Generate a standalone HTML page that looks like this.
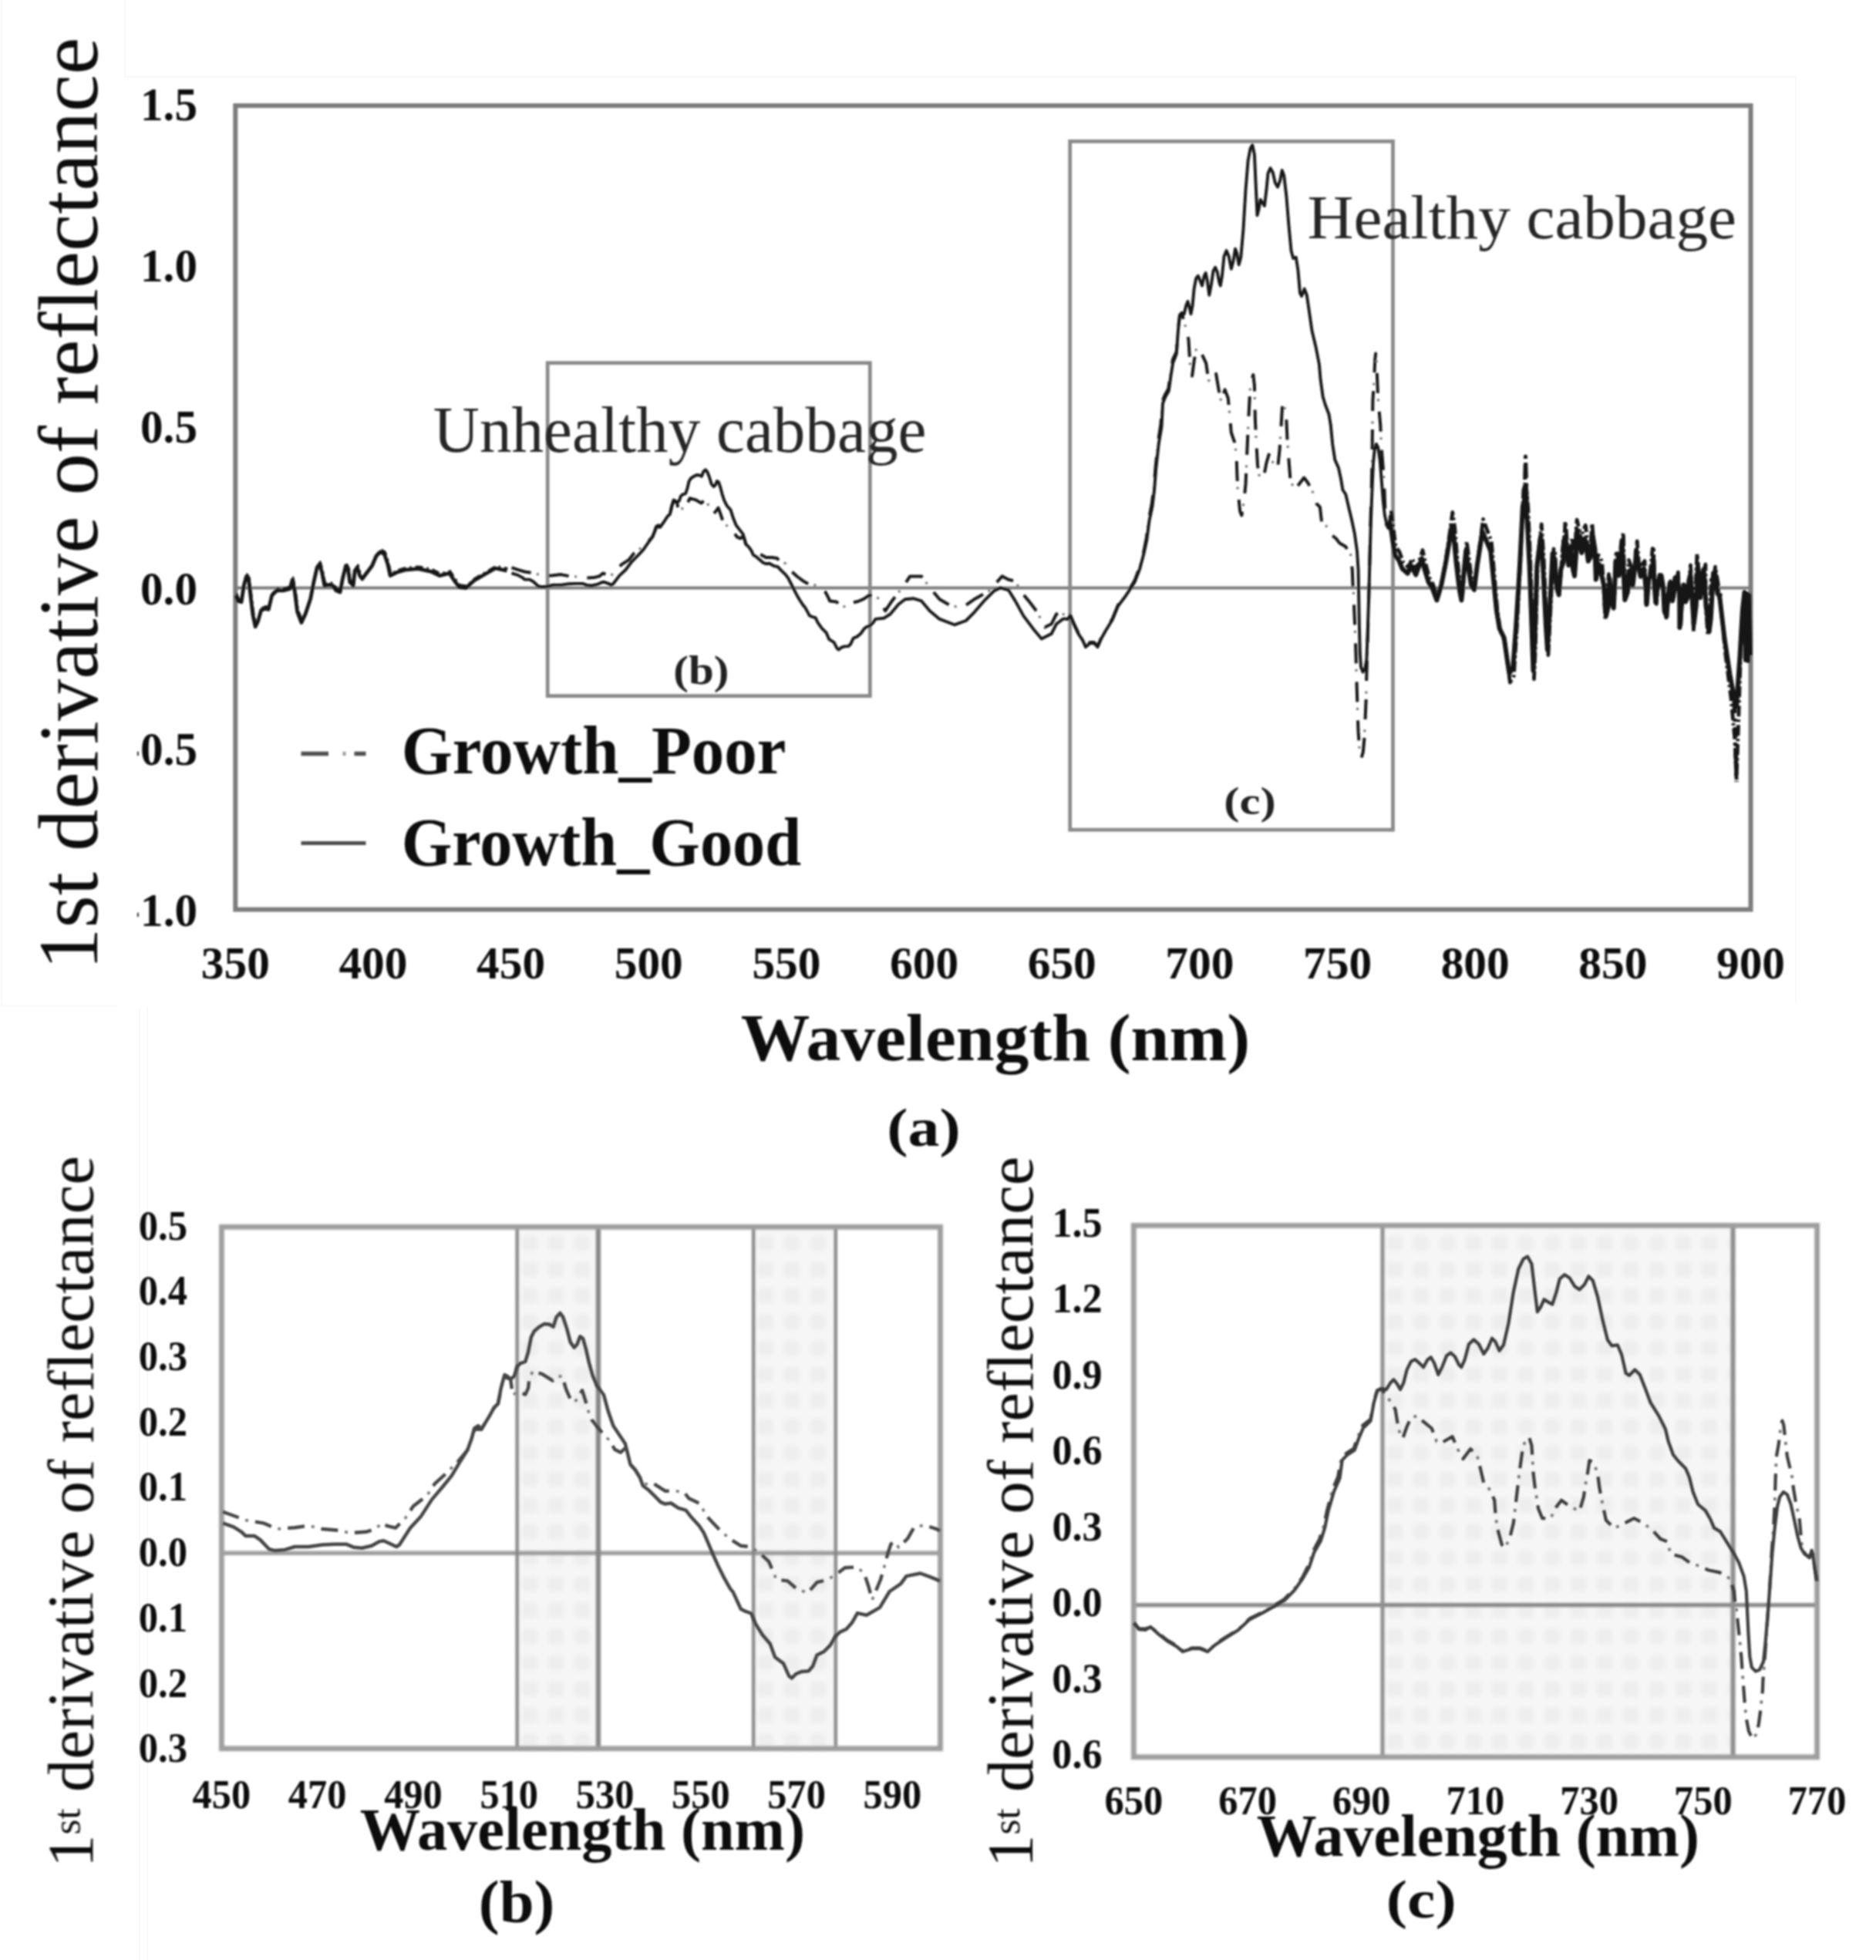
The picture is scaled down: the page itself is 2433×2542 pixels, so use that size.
<!DOCTYPE html>
<html><head><meta charset="utf-8"><title>figure</title>
<style>html,body{margin:0;padding:0;background:#fff}svg{display:block}</style></head>
<body>
<svg xmlns="http://www.w3.org/2000/svg" width="2433" height="2542" viewBox="0 0 2433 2542">
<defs>
<pattern id="hatch" width="34" height="34" patternUnits="userSpaceOnUse" patternTransform="translate(-10.5,-3)">
<rect width="34" height="34" fill="#f6f6f6"/>
<rect x="7" y="7" width="21" height="21" rx="7" fill="#eeeeee"/>
</pattern>
<filter id="hblur" x="-2%" y="-2%" width="104%" height="104%"><feGaussianBlur stdDeviation="3.2"/></filter>
<filter id="soft" x="-5%" y="-5%" width="110%" height="110%"><feGaussianBlur stdDeviation="0.9"/></filter>
<filter id="soft2" x="-5%" y="-5%" width="110%" height="110%"><feGaussianBlur stdDeviation="1.5"/></filter>
</defs>
<rect width="2433" height="2542" fill="#ffffff"/>
<path d="M162,0 V99.5 H2329 V1300 M0,1304.5 H152 M181,1306 V2542 M191,1306 V2542 M2,0 V1304" fill="none" stroke="#f9f9f9" stroke-width="2"/>
<g filter="url(#soft)">
<line x1="305.3" y1="762.6" x2="2270.5" y2="762.6" stroke="#7d7d7d" stroke-width="4"/>
<rect x="305.3" y="137.0" width="1965.2" height="1042.6" fill="none" stroke="#7d7d7d" stroke-width="6"/>
<rect x="710.2" y="470.7" width="418.1" height="431.9" fill="none" stroke="#8a8a8a" stroke-width="4.8"/>
<rect x="1387.7" y="183.3" width="418.8" height="892.9" fill="none" stroke="#8a8a8a" stroke-width="4.8"/>
<path d="M306.7,769.2 L309.9,776.7 L314.1,777.7 L317.3,756.4 L320.5,744.7 L323.7,750.0 L325.9,769.2 L329.0,794.8 L332.2,809.7 L335.4,803.3 L339.7,788.4 L345.0,786.3 L349.3,787.3 L353.6,769.2 L360.0,762.8 L368.5,762.8 L377.0,760.7 L380.2,748.9 L383.4,764.9 L386.6,790.5 L391.9,804.4 L397.3,792.7 L403.7,773.5 L407.9,752.1 L412.2,732.9 L415.4,728.7 L418.6,739.3 L421.8,756.4 L428.2,755.3 L432.5,756.4 L436.7,762.8 L442.1,764.9 L445.3,747.9 L449.5,730.8 L452.7,737.2 L454.8,752.1 L459.1,756.4 L461.2,737.2 L464.4,732.9 L467.6,743.6 L470.8,747.9 L477.2,739.3 L483.6,730.8 L489.0,718.0 L494.3,712.7 L499.6,715.9 L503.9,728.7 L507.1,743.6 L515.6,739.3 L526.3,736.1 L543.3,734.7 L560.4,738.3 L571.1,743.6 L583.8,740.4 L590.2,750.0 L596.6,758.5 L605.2,759.6 L615.8,750.0 L628.6,742.5 L643.5,734.0 L658.5,737.2" fill="none" stroke="#161616" stroke-width="2.6" stroke-linejoin="round" stroke-linecap="butt" stroke-dasharray="10 5 2.5 5" />
<path d="M663.5,736.2 L671.6,738.8 L680.4,741.5 L693.7,743.4 L704.0,747.2 L717.2,746.3 L727.5,745.1 L737.8,747.2 L749.6,748.1 L758.4,749.7 L770.2,749.1 L777.5,747.2 L781.9,743.4 L786.4,745.3 L792.2,746.6 L799.6,740.3 L805.5,732.7 L815.8,725.8 L821.7,718.2 L829.0,712.5 L839.3,703.7 L846.0,696.7 L848.9,689.8 L851.1,683.5 L856.3,683.5 L862.1,675.3 L865.8,669.6 L868.8,667.1 L871.0,658.2 L871.4,655.7 L873.6,650.0 L878.0,651.5 L879.7,661.4 L884.1,659.5 L889.1,661.2 L891.3,657.1 L891.8,652.4 L894.6,646.3 L901.8,648.1 L909.5,652.4 L912.8,649.6 L916.7,649.6 L919.4,657.6 L922.7,664.2 L926.0,666.1 L931.6,658.6 L934.3,666.1 L937.1,674.6 L938.7,677.5 L944.8,684.1 L952.0,690.7 L955.8,696.4 L960.3,698.3 L963.0,695.9 L965.2,698.3 L967.4,705.9 L971.3,709.7 L974.6,714.4 L977.9,718.7 L984.0,717.7 L993.4,722.9 L1001.1,722.9 L1007.7,723.9 L1011.0,727.6 L1019.3,731.0 L1024.3,739.0 L1034.2,748.0 L1041.9,753.7 L1049.6,757.9 L1056.5,758.6 L1063.8,762.6 L1070.6,768.0 L1074.3,775.1 L1076.3,779.6 L1084.7,780.5 L1092.0,785.8 L1099.8,788.1 L1106.6,781.4 L1112.8,780.0 L1120.1,776.9 L1127.4,772.0 L1137.6,774.1 L1148.2,792.2 L1156.8,779.4 L1171.7,760.2 L1180.2,747.4 L1195.1,747.4 L1207.9,764.5 L1218.6,777.3 L1233.5,785.8 L1248.4,787.9 L1263.4,777.3 L1282.6,766.6 L1299.6,747.4 L1308.1,751.7 L1316.7,753.8 L1325.2,768.7 L1335.9,781.5 L1345.5,794.3 L1355.1,813.5 L1363.6,809.3 L1370.0,796.5 L1378.5,794.3 L1380.5,801.0 L1384.7,801.8 L1387.8,796.9 L1393.0,809.2 L1398.2,820.0 L1404.4,829.6 L1408.0,837.7 L1413.7,833.1 L1418.9,833.1 L1423.6,838.0 L1428.2,827.1 L1434.4,816.2 L1442.7,802.6 L1450.0,784.7 L1458.3,773.8 L1465.5,762.9 L1471.7,752.5 L1478.0,735.7 L1483.1,716.6 L1486.8,697.6 L1489.9,673.1 L1493.7,654.0 L1496.4,632.2 L1498.7,605.0 L1502.0,572.4 L1505.4,550.6 L1507.5,520.7 L1510.6,512.5 L1515.3,504.3 L1517.9,485.3 L1521.0,466.2 L1525.8,456.2 L1527.9,426.3 L1530.0,408.6 L1532.6,405.9 L1537.8,424.9 L1541.4,439.9 L1543.5,473.9 L1546.1,487.5 L1548.6,468.4 L1551.2,453.5 L1554.9,450.8 L1558.5,458.9 L1564.2,471.2 L1567.3,492.9 L1569.9,495.7 L1577.1,484.8 L1580.8,506.6 L1583.9,521.5 L1588.5,505.2 L1592.7,516.1 L1594.8,537.9 L1596.8,561.0 L1601.0,573.2 L1603.6,589.6 L1604.1,608.6 L1605.1,633.1 L1608.2,663.1 L1610.3,668.5 L1613.4,649.4 L1615.5,627.7 L1619.1,546.0 L1620.7,516.1 L1621.7,498.4 L1625.3,486.1 L1626.9,499.7 L1627.4,521.5 L1627.9,544.7 L1629.0,567.8 L1631.0,603.2 L1633.6,619.5 L1638.8,619.5 L1642.4,600.5 L1645.6,589.6 L1651.3,600.5 L1657.0,607.3 L1659.5,584.1 L1660.6,565.1 L1661.6,551.5 L1663.2,524.2 L1665.8,527.0 L1668.4,546.0 L1669.4,567.8 L1670.9,589.6 L1673.5,622.2 L1678.7,635.8 L1684.9,627.7 L1691.2,619.5 L1696.3,626.3 L1702.6,638.6 L1707.7,653.5 L1711.9,657.6 L1714.2,678.1 L1721.2,683.2 L1726.6,693.4 L1732.8,698.5 L1737.5,704.6 L1744.9,708.7 L1751.5,718.9 L1753.8,739.3 L1754.6,759.7 L1755.1,761.6 L1756.4,793.7 L1757.6,822.8 L1758.5,848.8 L1759.1,873.1 L1760.1,903.9 L1760.7,926.6 L1761.6,949.2 L1763.1,970.3 L1765.6,983.3 L1767.8,975.2 L1769.3,959.0 L1770.2,941.1 L1771.8,903.9 L1772.1,884.4 L1773.0,855.3 L1773.9,822.8 L1775.2,774.2 L1776.1,741.8 L1777.5,676.0 L1778.7,635.2 L1779.5,596.4 L1779.9,555.6 L1780.4,518.8 L1781.8,498.4 L1783.3,465.8 L1784.1,458.6 L1785.1,465.8 L1786.1,490.3 L1787.2,516.8 L1790.3,551.5 L1791.1,569.9 L1792.3,588.3 L1795.0,623.0 L1796.6,667.9 L1798.5,678.1 L1801.2,684.2 L1803.2,667.9" fill="none" stroke="#161616" stroke-width="4.0" stroke-linejoin="round" stroke-linecap="butt" stroke-dasharray="26 24" />
<path d="M663.5,736.2 L671.6,738.8 L680.4,741.5 L693.7,743.4 L704.0,747.2 L717.2,746.3 L727.5,745.1 L737.8,747.2 L749.6,748.1 L758.4,749.7 L770.2,749.1 L777.5,747.2 L781.9,743.4 L786.4,745.3 L792.2,746.6 L799.6,740.3 L805.5,732.7 L815.8,725.8 L821.7,718.2 L829.0,712.5 L839.3,703.7 L846.0,696.7 L848.9,689.8 L851.1,683.5 L856.3,683.5 L862.1,675.3 L865.8,669.6 L868.8,667.1 L871.0,658.2 L871.4,655.7 L873.6,650.0 L878.0,651.5 L879.7,661.4 L884.1,659.5 L889.1,661.2 L891.3,657.1 L891.8,652.4 L894.6,646.3 L901.8,648.1 L909.5,652.4 L912.8,649.6 L916.7,649.6 L919.4,657.6 L922.7,664.2 L926.0,666.1 L931.6,658.6 L934.3,666.1 L937.1,674.6 L938.7,677.5 L944.8,684.1 L952.0,690.7 L955.8,696.4 L960.3,698.3 L963.0,695.9 L965.2,698.3 L967.4,705.9 L971.3,709.7 L974.6,714.4 L977.9,718.7 L984.0,717.7 L993.4,722.9 L1001.1,722.9 L1007.7,723.9 L1011.0,727.6 L1019.3,731.0 L1024.3,739.0 L1034.2,748.0 L1041.9,753.7 L1049.6,757.9 L1056.5,758.6 L1063.8,762.6 L1070.6,768.0 L1074.3,775.1 L1076.3,779.6 L1084.7,780.5 L1092.0,785.8 L1099.8,788.1 L1106.6,781.4 L1112.8,780.0 L1120.1,776.9 L1127.4,772.0 L1137.6,774.1 L1148.2,792.2 L1156.8,779.4 L1171.7,760.2 L1180.2,747.4 L1195.1,747.4 L1207.9,764.5 L1218.6,777.3 L1233.5,785.8 L1248.4,787.9 L1263.4,777.3 L1282.6,766.6 L1299.6,747.4 L1308.1,751.7 L1316.7,753.8 L1325.2,768.7 L1335.9,781.5 L1345.5,794.3 L1355.1,813.5 L1363.6,809.3 L1370.0,796.5 L1378.5,794.3 L1380.5,801.0 L1384.7,801.8 L1387.8,796.9 L1393.0,809.2 L1398.2,820.0 L1404.4,829.6 L1408.0,837.7 L1413.7,833.1 L1418.9,833.1 L1423.6,838.0 L1428.2,827.1 L1434.4,816.2 L1442.7,802.6 L1450.0,784.7 L1458.3,773.8 L1465.5,762.9 L1471.7,752.5 L1478.0,735.7 L1483.1,716.6 L1486.8,697.6 L1489.9,673.1 L1493.7,654.0 L1496.4,632.2 L1498.7,605.0 L1502.0,572.4 L1505.4,550.6 L1507.5,520.7 L1510.6,512.5 L1515.3,504.3 L1517.9,485.3 L1521.0,466.2 L1525.8,456.2 L1527.9,426.3 L1530.0,408.6 L1532.6,405.9 L1537.8,424.9 L1541.4,439.9 L1543.5,473.9 L1546.1,487.5 L1548.6,468.4 L1551.2,453.5 L1554.9,450.8 L1558.5,458.9 L1564.2,471.2 L1567.3,492.9 L1569.9,495.7 L1577.1,484.8 L1580.8,506.6 L1583.9,521.5 L1588.5,505.2 L1592.7,516.1 L1594.8,537.9 L1596.8,561.0 L1601.0,573.2 L1603.6,589.6 L1604.1,608.6 L1605.1,633.1 L1608.2,663.1 L1610.3,668.5 L1613.4,649.4 L1615.5,627.7 L1619.1,546.0 L1620.7,516.1 L1621.7,498.4 L1625.3,486.1 L1626.9,499.7 L1627.4,521.5 L1627.9,544.7 L1629.0,567.8 L1631.0,603.2 L1633.6,619.5 L1638.8,619.5 L1642.4,600.5 L1645.6,589.6 L1651.3,600.5 L1657.0,607.3 L1659.5,584.1 L1660.6,565.1 L1661.6,551.5 L1663.2,524.2 L1665.8,527.0 L1668.4,546.0 L1669.4,567.8 L1670.9,589.6 L1673.5,622.2 L1678.7,635.8 L1684.9,627.7 L1691.2,619.5 L1696.3,626.3 L1702.6,638.6 L1707.7,653.5 L1711.9,657.6 L1714.2,678.1 L1721.2,683.2 L1726.6,693.4 L1732.8,698.5 L1737.5,704.6 L1744.9,708.7 L1751.5,718.9 L1753.8,739.3 L1754.6,759.7 L1755.1,761.6 L1756.4,793.7 L1757.6,822.8 L1758.5,848.8 L1759.1,873.1 L1760.1,903.9 L1760.7,926.6 L1761.6,949.2 L1763.1,970.3 L1765.6,983.3 L1767.8,975.2 L1769.3,959.0 L1770.2,941.1 L1771.8,903.9 L1772.1,884.4 L1773.0,855.3 L1773.9,822.8 L1775.2,774.2 L1776.1,741.8 L1777.5,676.0 L1778.7,635.2 L1779.5,596.4 L1779.9,555.6 L1780.4,518.8 L1781.8,498.4 L1783.3,465.8 L1784.1,458.6 L1785.1,465.8 L1786.1,490.3 L1787.2,516.8 L1790.3,551.5 L1791.1,569.9 L1792.3,588.3 L1795.0,623.0 L1796.6,667.9 L1798.5,678.1 L1801.2,684.2 L1803.2,667.9" fill="none" stroke="#777" stroke-width="3.2" stroke-linejoin="round" stroke-linecap="butt" stroke-dasharray="0 33.5 3 13.5" />
<path d="M1804.3,662.2 L1807.2,686.7 L1810.1,709.0 L1814.9,715.7 L1819.8,729.1 L1826.6,735.8 L1831.4,724.6 L1837.2,738.0 L1845.0,713.5 L1848.9,731.3 L1853.7,749.1 L1858.6,758.1 L1864.4,775.9 L1870.2,753.6 L1876.0,720.2 L1880.9,686.7 L1883.8,664.4 L1886.7,684.5 L1889.6,720.2 L1893.5,758.1 L1896.4,775.9 L1900.3,724.6 L1902.2,702.3 L1905.1,724.6 L1909.0,753.6 L1912.9,760.3 L1916.7,724.6 L1920.6,695.6 L1923.5,673.3 L1928.4,686.7 L1934.2,702.3 L1938.1,746.9 L1941.9,791.5 L1945.8,818.3 L1951.6,831.7 L1955.5,862.9 L1958.4,885.2 L1963.3,876.3 L1967.2,813.8 L1972.0,724.6 L1975.9,635.4 L1978.8,624.3 L1981.7,657.7 L1984.6,724.6 L1987.5,813.8 L1989.5,880.7 L1991.4,836.1 L1994.3,724.6 L1999.2,680.0 L2002.1,724.6 L2005.9,813.8 L2007.9,849.5 L2010.8,791.5 L2015.0,711.8 L2016.8,717.3 L2018.2,749.2 L2020.4,748.8 L2022.0,768.2 L2024.6,741.0 L2026.4,712.5 L2029.2,692.8 L2030.0,676.2 L2031.3,688.3 L2033.9,727.8 L2035.9,716.4 L2039.1,697.7 L2040.9,715.0 L2042.9,739.7 L2043.6,693.8 L2045.1,674.1 L2048.2,687.0 L2051.1,701.9 L2052.5,689.2 L2056.3,681.3 L2057.2,688.5 L2059.3,714.0 L2062.9,706.8 L2064.8,678.9 L2067.1,705.6 L2070.6,742.6 L2071.9,719.9 L2075.4,721.2 L2077.8,731.1 L2079.7,760.7 L2081.3,791.5 L2082.0,804.5 L2084.3,769.1 L2086.4,744.7 L2090.3,776.2 L2093.1,787.3 L2094.0,763.4 L2096.1,714.6 L2098.9,725.6 L2099.6,738.8 L2102.3,706.4 L2105.4,691.1 L2105.8,720.7 L2108.4,773.5 L2110.8,760.4 L2112.5,726.5 L2116.3,736.9 L2117.6,752.9 L2121.0,737.2 L2123.2,701.9 L2125.5,731.6 L2127.9,740.1 L2129.5,732.1 L2133.0,727.6 L2134.0,763.6 L2134.6,782.9 L2137.6,759.9 L2141.1,732.7 L2143.2,711.5 L2144.5,712.4 L2145.8,749.6 L2148.3,783.3 L2151.2,749.1 L2152.8,744.5 L2154.8,760.1 L2157.2,758.8 L2158.9,779.5 L2160.9,801.1 L2163.9,778.5 L2166.4,753.9 L2168.4,761.8 L2170.2,771.8 L2172.3,766.0 L2176.4,742.2 L2178.1,782.9 L2179.8,812.3 L2181.1,781.4 L2183.0,761.0 L2185.6,759.8 L2188.1,771.2 L2190.7,753.2 L2192.5,732.9 L2194.3,767.3 L2196.5,818.6 L2199.1,757.7 L2201.0,718.4 L2203.6,745.3 L2206.8,770.5 L2209.0,744.6 L2211.9,732.0 L2212.2,786.7 L2215.0,824.1 L2217.2,797.0 L2219.3,751.7 L2222.5,749.1 L2224.6,735.1 L2228.3,757.9 L2229.1,772.4 L2231.0,780.0 L2238.0,850.0 L2245.0,905.0 L2250.0,960.0 L2252.0,1012.0 L2254.5,940.0 L2258.0,830.0 L2262.0,770.0" fill="none" stroke="#161616" stroke-width="4.8" stroke-linejoin="round" stroke-linecap="butt" stroke-dasharray="14 4 3 4" />
<path d="M2249.0,905.0 L2251.0,960.0 L2252.0,1014.0" fill="none" stroke="#161616" stroke-width="5.5" stroke-linejoin="round" stroke-linecap="butt" stroke-dasharray="20 7 4 7 14 7 4 7" />
<path d="M305.7,772.2 L308.9,779.7 L313.1,780.7 L316.3,759.4 L319.5,747.7 L322.7,753.0 L324.9,772.2 L328.0,797.8 L331.2,812.7 L334.4,806.3 L338.7,791.4 L344.0,789.3 L348.3,790.3 L352.6,772.2 L359.0,765.8 L367.5,765.8 L376.0,763.7 L379.2,751.9 L382.4,767.9 L385.6,793.5 L390.9,807.4 L396.3,795.7 L402.7,776.5 L406.9,755.1 L411.2,735.9 L414.4,731.7 L417.6,742.3 L420.8,759.4 L427.2,758.3 L431.5,759.4 L435.7,765.8 L441.1,767.9 L444.3,750.9 L448.5,733.8 L451.7,740.2 L453.8,755.1 L458.1,759.4 L460.2,740.2 L463.4,735.9 L466.6,746.6 L469.8,750.9 L476.2,742.3 L482.6,733.8 L488.0,721.0 L493.3,715.7 L498.6,718.9 L502.9,731.7 L506.1,746.6 L514.6,742.3 L525.3,739.1 L542.3,737.7 L559.4,741.3 L570.1,746.6 L582.8,743.4 L589.2,753.0 L595.6,761.5 L604.2,762.6 L614.8,753.0 L627.6,745.5 L642.5,737.0 L657.5,740.2" fill="none" stroke="#161616" stroke-width="4.8" stroke-linejoin="round" stroke-linecap="butt" />
<path d="M663.5,743.4 L671.6,745.9 L677.5,749.1 L680.4,751.6 L687.0,751.6 L691.5,754.2 L698.1,760.2 L702.5,761.1 L709.9,760.5 L717.2,758.6 L727.5,758.6 L737.8,757.3 L746.6,756.9 L755.5,756.9 L761.3,758.9 L767.2,759.5 L774.6,757.9 L780.5,755.2 L783.4,754.8 L787.8,756.4 L793.0,758.6 L795.2,757.3 L803.3,746.6 L811.4,739.0 L819.5,728.3 L827.6,720.1 L834.2,713.1 L840.8,703.7 L846.0,696.7 L848.9,689.8 L851.1,682.9 L854.0,681.2 L856.3,683.5 L862.1,675.3 L865.8,669.6 L868.8,667.1 L871.0,657.0 L872.0,653.8 L873.6,648.6 L875.8,649.6 L878.0,651.5 L880.8,649.6 L883.0,643.4 L885.2,641.3 L889.1,640.1 L891.3,633.9 L893.5,624.5 L895.7,620.7 L899.6,617.9 L903.4,616.0 L907.3,616.4 L910.0,617.9 L912.3,611.7 L915.0,609.2 L917.2,611.7 L920.0,618.8 L922.7,627.8 L925.5,631.1 L927.7,629.2 L929.9,624.0 L932.1,625.4 L934.3,632.1 L936.5,640.6 L939.3,649.1 L942.6,655.7 L947.6,661.4 L950.9,671.8 L954.7,681.3 L959.1,686.9 L963.6,692.6 L965.2,698.3 L967.4,705.9 L971.3,709.7 L974.6,714.4 L976.8,719.6 L981.2,722.4 L985.6,726.2 L990.0,730.0 L993.4,731.2 L997.8,730.7 L1003.3,733.8 L1008.8,735.2 L1013.2,739.9 L1018.7,745.2 L1022.0,749.4 L1025.4,756.0 L1028.7,762.7 L1033.1,771.2 L1037.5,778.7 L1041.9,785.4 L1044.0,787.6 L1047.2,793.4 L1049.8,798.3 L1053.4,800.0 L1057.6,801.2 L1060.7,807.7 L1065.9,814.9 L1071.7,820.7 L1075.3,829.2 L1081.6,833.2 L1085.7,841.2 L1087.8,842.6 L1090.9,839.9 L1095.1,838.4 L1100.3,838.1 L1103.4,835.0 L1106.6,827.8 L1111.8,825.6 L1116.5,821.6 L1120.4,815.8 L1123.8,813.1 L1128.5,811.3 L1132.6,807.3 L1135.4,802.9 L1146.1,801.8 L1154.6,796.5 L1165.3,783.7 L1173.8,777.3 L1184.5,776.2 L1195.1,779.4 L1205.8,792.2 L1218.6,802.9 L1237.8,810.3 L1252.7,805.0 L1263.4,794.3 L1276.2,779.4 L1289.0,766.6 L1297.5,762.3 L1308.1,765.5 L1316.7,779.4 L1327.3,798.6 L1340.1,815.7 L1350.8,828.4 L1363.6,822.0 L1370.0,809.3 L1378.5,802.9 L1380.5,802.4 L1384.7,803.2 L1387.8,798.3 L1393.0,810.5 L1398.2,821.4 L1404.4,830.9 L1408.0,839.1 L1413.7,834.2 L1418.9,834.2 L1423.6,839.1 L1428.2,828.2 L1434.4,817.3 L1442.7,803.7 L1450.0,786.0 L1458.3,775.1 L1465.5,764.3 L1471.7,754.7 L1478.0,738.4 L1483.1,719.3 L1487.3,700.3 L1490.4,675.8 L1494.5,656.7 L1497.1,635.0 L1499.2,607.8 L1502.8,575.1 L1506.5,553.3 L1508.0,523.4 L1511.1,515.2 L1515.8,507.1 L1518.4,488.0 L1521.5,468.9 L1522.2,468.4 L1525.8,458.9 L1527.9,429.0 L1530.0,409.9 L1532.6,405.9 L1535.7,407.2 L1538.3,396.3 L1540.4,390.9 L1542.4,397.7 L1544.5,407.2 L1546.6,396.3 L1548.6,374.6 L1551.2,360.9 L1553.8,357.7 L1556.9,365.0 L1559.0,370.5 L1561.6,358.2 L1563.7,354.1 L1565.7,363.7 L1568.3,382.7 L1570.9,369.1 L1573.5,351.4 L1576.1,346.8 L1578.7,352.8 L1581.3,366.4 L1582.8,370.5 L1584.9,358.2 L1587.5,332.4 L1590.6,325.0 L1593.7,332.4 L1596.8,348.7 L1599.4,339.2 L1602.0,322.8 L1604.1,328.3 L1606.7,343.3 L1609.3,333.7 L1612.4,298.3 L1615.5,246.6 L1618.6,208.5 L1621.7,192.2 L1624.3,188.1 L1626.9,200.4 L1629.0,246.6 L1630.5,279.3 L1632.6,271.1 L1634.7,258.9 L1637.3,263.0 L1639.9,267.0 L1642.4,246.6 L1644.5,224.9 L1647.6,218.1 L1650.7,223.5 L1653.8,237.1 L1657.0,242.5 L1660.1,234.4 L1662.7,220.8 L1665.2,227.6 L1668.4,254.8 L1671.5,292.9 L1674.6,325.6 L1677.2,335.1 L1680.8,333.7 L1683.4,350.1 L1686.0,380.0 L1688.1,384.1 L1691.7,374.6 L1694.8,382.7 L1698.4,407.2 L1701.5,429.0 L1706.7,450.8 L1710.9,472.5 L1712.6,492.3 L1715.7,514.8 L1718.8,525.0 L1723.5,537.2 L1725.8,551.5 L1728.2,576.0 L1731.3,596.4 L1735.9,606.6 L1739.0,620.9 L1741.4,635.2 L1745.3,641.3 L1749.1,657.7 L1753.0,674.0 L1756.9,692.4 L1760.0,714.8 L1761.6,739.3 L1762.8,806.6 L1763.8,847.2 L1765.0,865.0 L1767.5,871.5 L1769.9,869.0 L1772.4,855.3 L1773.6,822.8 L1775.2,774.2 L1776.1,741.8 L1777.9,676.0 L1779.5,635.2 L1781.0,600.5 L1782.6,584.2 L1784.9,576.0 L1787.2,580.1 L1789.6,596.4 L1791.9,625.0 L1793.8,649.5 L1795.8,667.9 L1798.1,678.1 L1801.2,684.2" fill="none" stroke="#161616" stroke-width="3.9" stroke-linejoin="round" stroke-linecap="butt" />
<path d="M1798.1,678.1 L1801.2,684.2 L1803.3,679.6 L1806.2,700.9 L1809.1,720.3 L1813.9,726.2 L1818.8,737.8 L1825.6,743.6 L1830.4,733.9 L1836.2,745.5 L1844.0,724.2 L1847.9,739.7 L1852.7,755.2 L1857.6,763.0 L1863.4,778.5 L1869.2,759.1 L1875.0,730.0 L1879.9,700.9 L1882.8,681.6 L1885.7,699.0 L1888.6,730.0 L1892.5,763.0 L1895.4,778.5 L1899.3,733.9 L1901.2,714.5 L1904.1,733.9 L1908.0,759.1 L1911.9,764.9 L1915.7,733.9 L1919.6,708.7 L1922.5,689.3 L1927.4,700.9 L1933.2,714.5 L1937.1,753.3 L1940.9,792.1 L1944.8,815.4 L1950.6,827.0 L1954.5,854.1 L1957.4,873.5 L1962.3,865.8 L1966.2,811.5 L1971.0,733.9 L1974.9,656.3 L1977.8,646.7 L1980.7,675.7 L1983.6,733.9 L1986.5,811.5 L1988.5,869.6 L1990.4,830.9 L1993.3,733.9 L1998.2,695.1 L2001.1,733.9 L2004.9,811.5 L2006.9,842.5 L2009.8,792.1 L2013.6,718.0 L2016.3,726.4 L2018.1,754.9 L2019.5,764.2 L2021.7,771.4 L2024.3,738.1 L2027.4,729.8 L2028.0,701.8 L2030.3,695.6 L2031.7,711.5 L2034.3,733.1 L2036.3,718.9 L2037.1,709.7 L2040.0,738.4 L2042.0,747.0 L2044.3,714.8 L2045.3,686.9 L2047.1,695.7 L2051.2,717.0 L2052.8,711.2 L2055.5,698.4 L2058.6,719.1 L2059.8,727.8 L2062.8,722.5 L2065.7,695.1 L2068.5,712.5 L2069.8,751.6 L2071.7,739.7 L2073.7,731.7 L2077.7,748.4 L2080.5,760.9 L2081.5,783.4 L2082.9,798.8 L2085.8,786.8 L2087.5,750.9 L2089.1,772.8 L2092.7,788.7 L2094.6,749.9 L2095.3,728.5 L2097.0,737.3 L2099.6,746.5 L2101.5,733.9 L2103.5,701.2 L2106.1,751.2 L2107.3,777.9 L2110.8,768.3 L2113.9,739.7 L2115.1,744.0 L2117.6,759.0 L2121.3,726.2 L2122.0,713.8 L2124.6,732.3 L2127.7,747.7 L2128.9,740.9 L2132.0,737.3 L2134.8,765.3 L2135.6,784.1 L2138.3,750.7 L2141.3,745.4 L2143.1,741.9 L2144.1,723.2 L2145.5,758.1 L2147.3,781.3 L2150.1,757.7 L2152.7,746.0 L2154.5,746.2 L2157.0,761.3 L2158.6,792.8 L2161.4,799.5 L2163.0,776.5 L2165.6,756.1 L2169.0,779.4 L2170.6,771.8 L2172.3,749.6 L2175.1,747.7 L2178.2,770.5 L2178.4,813.9 L2181.6,776.4 L2183.6,758.6 L2186.0,780.5 L2189.2,773.5 L2190.2,753.8 L2192.3,745.3 L2195.2,785.4 L2196.7,809.7 L2199.7,785.5 L2201.9,734.4 L2204.1,760.3 L2205.2,775.3 L2208.0,744.4 L2209.6,738.2 L2212.6,785.3 L2216.6,819.5 L2218.8,801.6 L2221.4,754.9 L2222.1,743.5 L2224.4,744.0 L2227.7,770.4 L2230.7,771.8 L2230.0,772.0 L2236.5,828.0 L2243.5,875.0 L2249.0,905.0 L2252.0,916.0 L2256.5,851.0 L2260.0,790.0 L2262.5,768.0 L2264.0,856.0 L2265.5,770.0 L2267.0,857.0 L2268.5,772.0 L2270.0,850.0" fill="none" stroke="#161616" stroke-width="6.0" stroke-linejoin="round" stroke-linecap="butt" />
<path d="M1976.5,660.0 L1978.5,592.0 L1980.5,660.0" fill="none" stroke="#161616" stroke-width="5" stroke-linejoin="round" stroke-linecap="butt" stroke-dasharray="20 7 4 7" />
</g>
<g filter="url(#soft)">
<path d="M390.5,977.5 L426,977.5 M459.5,977.5 L474.5,977.5" stroke="#505050" stroke-width="5.5" fill="none"/>
<path d="M444.5,977.5 L448.5,977.5" stroke="#999" stroke-width="5" fill="none"/>
<path d="M390.5,1093.5 L474.5,1093.5" stroke="#505050" stroke-width="5" fill="none"/>
</g>
<g filter="url(#soft)">
<text transform="translate(256.00,155.63) scale(0.9700,1)" text-anchor="end" font-family="'Liberation Serif','Times New Roman',serif" font-weight="bold" font-size="61" fill="#111" >1.5</text>
<text transform="translate(256.00,364.63) scale(0.9700,1)" text-anchor="end" font-family="'Liberation Serif','Times New Roman',serif" font-weight="bold" font-size="61" fill="#111" >1.0</text>
<text transform="translate(256.00,573.73) scale(0.9700,1)" text-anchor="end" font-family="'Liberation Serif','Times New Roman',serif" font-weight="bold" font-size="61" fill="#111" >0.5</text>
<text transform="translate(256.00,783.73) scale(0.9700,1)" text-anchor="end" font-family="'Liberation Serif','Times New Roman',serif" font-weight="bold" font-size="61" fill="#111" >0.0</text>
<g clip-path="url(#clipneg)">
<text transform="translate(256.00,991.73) scale(0.9700,1)" text-anchor="end" font-family="'Liberation Serif','Times New Roman',serif" font-weight="bold" font-size="61" fill="#111" >-0.5</text>
<text transform="translate(256.00,1201.13) scale(0.9700,1)" text-anchor="end" font-family="'Liberation Serif','Times New Roman',serif" font-weight="bold" font-size="61" fill="#111" >-1.0</text>
</g>
<text transform="translate(305.30,1269.30) scale(0.9900,1)" text-anchor="middle" font-family="'Liberation Serif','Times New Roman',serif" font-weight="bold" font-size="60" fill="#111" >350</text>
<text transform="translate(483.95,1269.30) scale(0.9900,1)" text-anchor="middle" font-family="'Liberation Serif','Times New Roman',serif" font-weight="bold" font-size="60" fill="#111" >400</text>
<text transform="translate(662.61,1269.30) scale(0.9900,1)" text-anchor="middle" font-family="'Liberation Serif','Times New Roman',serif" font-weight="bold" font-size="60" fill="#111" >450</text>
<text transform="translate(841.26,1269.30) scale(0.9900,1)" text-anchor="middle" font-family="'Liberation Serif','Times New Roman',serif" font-weight="bold" font-size="60" fill="#111" >500</text>
<text transform="translate(1019.92,1269.30) scale(0.9900,1)" text-anchor="middle" font-family="'Liberation Serif','Times New Roman',serif" font-weight="bold" font-size="60" fill="#111" >550</text>
<text transform="translate(1198.57,1269.30) scale(0.9900,1)" text-anchor="middle" font-family="'Liberation Serif','Times New Roman',serif" font-weight="bold" font-size="60" fill="#111" >600</text>
<text transform="translate(1377.23,1269.30) scale(0.9900,1)" text-anchor="middle" font-family="'Liberation Serif','Times New Roman',serif" font-weight="bold" font-size="60" fill="#111" >650</text>
<text transform="translate(1555.88,1269.30) scale(0.9900,1)" text-anchor="middle" font-family="'Liberation Serif','Times New Roman',serif" font-weight="bold" font-size="60" fill="#111" >700</text>
<text transform="translate(1734.54,1269.30) scale(0.9900,1)" text-anchor="middle" font-family="'Liberation Serif','Times New Roman',serif" font-weight="bold" font-size="60" fill="#111" >750</text>
<text transform="translate(1913.19,1269.30) scale(0.9900,1)" text-anchor="middle" font-family="'Liberation Serif','Times New Roman',serif" font-weight="bold" font-size="60" fill="#111" >800</text>
<text transform="translate(2091.85,1269.30) scale(0.9900,1)" text-anchor="middle" font-family="'Liberation Serif','Times New Roman',serif" font-weight="bold" font-size="60" fill="#111" >850</text>
<text transform="translate(2270.50,1269.30) scale(0.9900,1)" text-anchor="middle" font-family="'Liberation Serif','Times New Roman',serif" font-weight="bold" font-size="60" fill="#111" >900</text>
</g>
<defs><clipPath id="clipneg"><rect x="178" y="900" width="90" height="330"/></clipPath></defs>
<g filter="url(#soft)">
<text transform="translate(126.39,1257.78) rotate(-90) scale(1.0863,1.1056)" font-family="'Liberation Serif','Times New Roman',serif" font-weight="normal" font-size="100" fill="#111" >1st derivative of reflectance</text>
<text transform="translate(960.65,1375.14) scale(0.8973,0.8571)" font-family="'Liberation Serif','Times New Roman',serif" font-weight="bold" font-size="100" fill="#111" >Wavelength (nm)</text>
<text transform="translate(1150.32,1486.03) scale(0.8186,0.6889)" font-family="'Liberation Serif','Times New Roman',serif" font-weight="bold" font-size="100" fill="#111" >(a)</text>
<text transform="translate(561.84,586.02) scale(0.8317,0.8564)" font-family="'Liberation Serif','Times New Roman',serif" font-weight="normal" font-size="100" fill="#262626" >Unhealthy cabbage</text>
<text transform="translate(1695.50,309.06) scale(0.8317,0.8066)" font-family="'Liberation Serif','Times New Roman',serif" font-weight="normal" font-size="100" fill="#262626" >Healthy cabbage</text>
<text transform="translate(873.34,887.03) scale(0.5903,0.5222)" font-family="'Liberation Serif','Times New Roman',serif" font-weight="bold" font-size="100" fill="#222" >(b)</text>
<text transform="translate(1587.26,1055.65) scale(0.6078,0.5167)" font-family="'Liberation Serif','Times New Roman',serif" font-weight="bold" font-size="100" fill="#222" >(c)</text>
<text transform="translate(520.75,1002.69) scale(0.8500,0.8795)" font-family="'Liberation Serif','Times New Roman',serif" font-weight="bold" font-size="100" fill="#111" >Growth_Poor</text>
<text transform="translate(520.78,1121.69) scale(0.8431,0.8795)" font-family="'Liberation Serif','Times New Roman',serif" font-weight="bold" font-size="100" fill="#111" >Growth_Good</text>
</g>
<g filter="url(#soft)">
<rect x="670.7" y="1591.3" width="105.2" height="676.5" fill="url(#hatch)" filter="url(#hblur)"/>
<rect x="977.2" y="1591.3" width="106.6" height="676.5" fill="url(#hatch)" filter="url(#hblur)"/>
</g><g filter="url(#soft2)">
<line x1="287.4" y1="2014.3" x2="1219.5" y2="2014.3" stroke="#9c9c9c" stroke-width="5.6"/>
<line x1="670.7" y1="1591.3" x2="670.7" y2="2267.8" stroke="#868686" stroke-width="4.3"/>
<line x1="775.9" y1="1591.3" x2="775.9" y2="2267.8" stroke="#868686" stroke-width="6.3"/>
<line x1="977.2" y1="1591.3" x2="977.2" y2="2267.8" stroke="#868686" stroke-width="4.3"/>
<line x1="1083.8" y1="1591.3" x2="1083.8" y2="2267.8" stroke="#868686" stroke-width="4.3"/>
<rect x="287.4" y="1591.3" width="932.1" height="676.5" fill="none" stroke="#9e9e9e" stroke-width="6.8"/>
</g><g filter="url(#soft)">
<path d="M289.0,1960.7 L303.0,1965.8 L318.4,1971.5 L341.4,1975.3 L359.3,1983.0 L382.4,1981.2 L400.3,1978.6 L418.2,1983.0 L438.6,1984.8 L454.0,1988.1 L474.5,1986.8 L487.3,1983.0 L494.9,1975.3 L502.6,1979.2 L512.9,1981.7 L525.6,1968.9 L535.9,1953.6 L553.8,1939.5 L564.0,1924.1 L576.8,1912.6 L594.7,1894.7 L606.3,1880.6 L611.4,1866.6 L615.2,1853.8 L624.2,1853.8 L634.4,1837.1 L640.8,1825.6 L645.9,1820.5 L649.8,1802.6 L650.6,1797.5 L654.4,1786.0 L662.1,1788.8 L664.9,1809.0 L672.6,1805.1 L681.3,1808.6 L685.1,1800.3 L686.1,1790.7 L690.9,1778.3 L703.3,1782.1 L716.8,1790.7 L722.5,1785.0 L729.2,1785.0 L734.0,1801.3 L739.8,1814.7 L745.5,1818.6 L755.1,1803.2 L759.9,1818.6 L764.7,1835.8 L767.6,1841.6 L778.2,1855.0 L790.6,1868.5 L797.4,1880.0 L805.0,1883.8 L809.8,1879.0 L813.7,1883.8 L817.5,1899.2 L824.2,1906.8 L830.0,1916.4 L835.7,1925.1 L846.3,1923.2 L862.6,1933.7 L876.0,1933.7 L887.6,1935.6 L893.3,1943.3 L907.7,1950.0 L916.3,1966.3 L933.6,1984.6 L947.0,1996.1 L960.5,2004.7 L972.5,2006.0 L985.2,2014.2 L997.0,2025.1 L1003.3,2039.6 L1006.9,2048.6 L1021.4,2050.4 L1034.1,2061.3 L1047.7,2065.8 L1059.5,2052.2 L1070.4,2049.5 L1083.1,2043.2 L1095.7,2033.2 L1112.0,2032.3 L1121.1,2041.4 L1126.5,2057.7 L1131.1,2074.9 L1142.0,2048.6 L1146.5,2033.2 L1151.0,2016.0 L1155.5,2002.4 L1160.1,1999.3 L1165.5,2006.9 L1177.3,1995.2 L1185.5,1980.7 L1199.0,1977.9 L1215.4,1983.4 L1219.0,1985.2" fill="none" stroke="#454545" stroke-width="4.4" stroke-linejoin="round" stroke-linecap="butt" stroke-dasharray="22 22" />
<path d="M289.0,1960.7 L303.0,1965.8 L318.4,1971.5 L341.4,1975.3 L359.3,1983.0 L382.4,1981.2 L400.3,1978.6 L418.2,1983.0 L438.6,1984.8 L454.0,1988.1 L474.5,1986.8 L487.3,1983.0 L494.9,1975.3 L502.6,1979.2 L512.9,1981.7 L525.6,1968.9 L535.9,1953.6 L553.8,1939.5 L564.0,1924.1 L576.8,1912.6 L594.7,1894.7 L606.3,1880.6 L611.4,1866.6 L615.2,1853.8 L624.2,1853.8 L634.4,1837.1 L640.8,1825.6 L645.9,1820.5 L649.8,1802.6 L650.6,1797.5 L654.4,1786.0 L662.1,1788.8 L664.9,1809.0 L672.6,1805.1 L681.3,1808.6 L685.1,1800.3 L686.1,1790.7 L690.9,1778.3 L703.3,1782.1 L716.8,1790.7 L722.5,1785.0 L729.2,1785.0 L734.0,1801.3 L739.8,1814.7 L745.5,1818.6 L755.1,1803.2 L759.9,1818.6 L764.7,1835.8 L767.6,1841.6 L778.2,1855.0 L790.6,1868.5 L797.4,1880.0 L805.0,1883.8 L809.8,1879.0 L813.7,1883.8 L817.5,1899.2 L824.2,1906.8 L830.0,1916.4 L835.7,1925.1 L846.3,1923.2 L862.6,1933.7 L876.0,1933.7 L887.6,1935.6 L893.3,1943.3 L907.7,1950.0 L916.3,1966.3 L933.6,1984.6 L947.0,1996.1 L960.5,2004.7 L972.5,2006.0 L985.2,2014.2 L997.0,2025.1 L1003.3,2039.6 L1006.9,2048.6 L1021.4,2050.4 L1034.1,2061.3 L1047.7,2065.8 L1059.5,2052.2 L1070.4,2049.5 L1083.1,2043.2 L1095.7,2033.2 L1112.0,2032.3 L1121.1,2041.4 L1126.5,2057.7 L1131.1,2074.9 L1142.0,2048.6 L1146.5,2033.2 L1151.0,2016.0 L1155.5,2002.4 L1160.1,1999.3 L1165.5,2006.9 L1177.3,1995.2 L1185.5,1980.7 L1199.0,1977.9 L1215.4,1983.4 L1219.0,1985.2" fill="none" stroke="#777" stroke-width="3.6" stroke-linejoin="round" stroke-linecap="butt" stroke-dasharray="0 31 4 9" />
<path d="M289.0,1975.3 L303.0,1980.4 L313.3,1986.8 L318.4,1991.9 L329.9,1991.9 L337.6,1997.1 L349.1,2009.3 L356.8,2011.1 L369.6,2009.9 L382.4,2006.0 L400.3,2006.0 L418.2,2003.5 L433.5,2002.7 L448.9,2002.7 L459.1,2006.8 L469.4,2007.8 L482.1,2004.7 L492.4,1999.1 L497.5,1998.3 L505.2,2001.7 L514.1,2006.0 L518.0,2003.5 L532.0,1981.7 L546.1,1966.4 L560.2,1944.6 L574.3,1928.0 L585.8,1913.9 L597.3,1894.7 L606.3,1880.6 L611.4,1866.6 L615.2,1852.5 L620.3,1849.2 L624.2,1853.8 L634.4,1837.1 L640.8,1825.6 L645.9,1820.5 L649.8,1800.0 L651.5,1793.6 L654.4,1783.1 L658.2,1785.0 L662.1,1788.8 L666.9,1785.0 L670.7,1772.5 L674.5,1768.3 L681.3,1765.8 L685.1,1753.3 L688.9,1734.1 L692.8,1726.5 L699.5,1720.7 L706.2,1716.9 L712.9,1717.8 L717.7,1720.7 L721.6,1708.2 L726.4,1703.0 L730.2,1708.2 L735.0,1722.6 L739.8,1740.9 L744.6,1747.6 L748.4,1743.7 L752.3,1733.2 L756.1,1736.1 L759.9,1749.5 L763.8,1766.8 L768.6,1784.0 L774.3,1797.5 L783.0,1809.0 L788.7,1830.1 L795.4,1849.3 L803.1,1860.8 L810.8,1872.3 L813.7,1883.8 L817.5,1899.2 L824.2,1906.8 L830.0,1916.4 L833.8,1927.0 L841.5,1932.8 L849.2,1940.4 L856.8,1948.1 L862.6,1950.6 L870.3,1949.5 L879.9,1955.8 L889.5,1958.7 L897.1,1968.3 L906.7,1978.8 L912.5,1987.4 L918.3,2000.9 L924.0,2014.3 L931.7,2031.6 L939.4,2046.9 L947.0,2060.4 L950.7,2064.9 L956.2,2076.7 L960.7,2086.7 L967.1,2089.9 L974.3,2092.5 L979.7,2105.7 L988.8,2120.2 L998.8,2132.0 L1005.1,2149.2 L1016.0,2157.4 L1023.2,2173.7 L1026.9,2176.4 L1032.3,2171.0 L1039.6,2167.9 L1048.6,2167.3 L1054.1,2161.0 L1059.5,2146.5 L1068.6,2142.0 L1076.7,2133.8 L1083.6,2122.0 L1089.4,2116.6 L1097.5,2113.0 L1104.8,2104.8 L1112.0,2092.1 L1123.8,2094.8 L1141.0,2084.9 L1153.7,2064.0 L1168.2,2054.1 L1175.5,2044.1 L1193.6,2040.5 L1208.1,2045.9 L1219.0,2050.4" fill="none" stroke="#454545" stroke-width="4.5" stroke-linejoin="round" stroke-linecap="butt" />
</g>
<g filter="url(#soft)">
<text transform="translate(243.00,1607.65) scale(0.9200,1)" text-anchor="end" font-family="'Liberation Serif','Times New Roman',serif" font-weight="bold" font-size="55" fill="#111" >0.5</text>
<text transform="translate(243.00,1692.35) scale(0.9200,1)" text-anchor="end" font-family="'Liberation Serif','Times New Roman',serif" font-weight="bold" font-size="55" fill="#111" >0.4</text>
<text transform="translate(243.00,1777.05) scale(0.9200,1)" text-anchor="end" font-family="'Liberation Serif','Times New Roman',serif" font-weight="bold" font-size="55" fill="#111" >0.3</text>
<text transform="translate(243.00,1861.75) scale(0.9200,1)" text-anchor="end" font-family="'Liberation Serif','Times New Roman',serif" font-weight="bold" font-size="55" fill="#111" >0.2</text>
<text transform="translate(243.00,1946.45) scale(0.9200,1)" text-anchor="end" font-family="'Liberation Serif','Times New Roman',serif" font-weight="bold" font-size="55" fill="#111" >0.1</text>
<text transform="translate(243.00,2031.15) scale(0.9200,1)" text-anchor="end" font-family="'Liberation Serif','Times New Roman',serif" font-weight="bold" font-size="55" fill="#111" >0.0</text>
<text transform="translate(243.00,2115.85) scale(0.9200,1)" text-anchor="end" font-family="'Liberation Serif','Times New Roman',serif" font-weight="bold" font-size="55" fill="#111" >0.1</text>
<text transform="translate(243.00,2200.55) scale(0.9200,1)" text-anchor="end" font-family="'Liberation Serif','Times New Roman',serif" font-weight="bold" font-size="55" fill="#111" >0.2</text>
<text transform="translate(243.00,2285.25) scale(0.9200,1)" text-anchor="end" font-family="'Liberation Serif','Times New Roman',serif" font-weight="bold" font-size="55" fill="#111" >0.3</text>
<text transform="translate(287.40,2344.66) scale(0.9700,1)" text-anchor="middle" font-family="'Liberation Serif','Times New Roman',serif" font-weight="bold" font-size="52" fill="#111" >450</text>
<text transform="translate(411.68,2344.66) scale(0.9700,1)" text-anchor="middle" font-family="'Liberation Serif','Times New Roman',serif" font-weight="bold" font-size="52" fill="#111" >470</text>
<text transform="translate(535.96,2344.66) scale(0.9700,1)" text-anchor="middle" font-family="'Liberation Serif','Times New Roman',serif" font-weight="bold" font-size="52" fill="#111" >490</text>
<text transform="translate(660.24,2344.66) scale(0.9700,1)" text-anchor="middle" font-family="'Liberation Serif','Times New Roman',serif" font-weight="bold" font-size="52" fill="#111" >510</text>
<text transform="translate(784.52,2344.66) scale(0.9700,1)" text-anchor="middle" font-family="'Liberation Serif','Times New Roman',serif" font-weight="bold" font-size="52" fill="#111" >530</text>
<text transform="translate(908.80,2344.66) scale(0.9700,1)" text-anchor="middle" font-family="'Liberation Serif','Times New Roman',serif" font-weight="bold" font-size="52" fill="#111" >550</text>
<text transform="translate(1033.08,2344.66) scale(0.9700,1)" text-anchor="middle" font-family="'Liberation Serif','Times New Roman',serif" font-weight="bold" font-size="52" fill="#111" >570</text>
<text transform="translate(1157.36,2344.66) scale(0.9700,1)" text-anchor="middle" font-family="'Liberation Serif','Times New Roman',serif" font-weight="bold" font-size="52" fill="#111" >590</text>
<text transform="translate(120.65,2421.94) rotate(-90) scale(0.8494,0.8451)" font-family="'Liberation Serif','Times New Roman',serif" font-weight="normal" font-size="100" fill="#111" >1<tspan font-size="60%" dy="-0.33em">st</tspan><tspan dy="0.198em"> derivative of reflectance</tspan></text>
<text transform="translate(466.82,2398.84) scale(0.7842,0.7802)" font-family="'Liberation Serif','Times New Roman',serif" font-weight="bold" font-size="100" fill="#111" >Wavelength (nm)</text>
<text transform="translate(620.87,2492.55) scale(0.8062,0.7833)" font-family="'Liberation Serif','Times New Roman',serif" font-weight="bold" font-size="100" fill="#111" clip-path="none">(b)</text>
</g>
<g filter="url(#soft)">
<rect x="1793.0" y="1589.4" width="454.5" height="689.4" fill="url(#hatch)" filter="url(#hblur)"/>
</g><g filter="url(#soft2)">
<line x1="1470.3" y1="2081.6" x2="2356.6" y2="2081.6" stroke="#888888" stroke-width="5.2"/>
<line x1="1793.0" y1="1589.4" x2="1793.0" y2="2278.8" stroke="#8e8e8e" stroke-width="5.0"/>
<line x1="2247.5" y1="1589.4" x2="2247.5" y2="2278.8" stroke="#8e8e8e" stroke-width="6.0"/>
<rect x="1470.3" y="1589.4" width="886.3" height="689.4" fill="none" stroke="#9e9e9e" stroke-width="6.8"/>
</g><g filter="url(#soft)">
<path d="M1470.7,2104.6 L1477.1,2112.1 L1485.7,2112.7 L1492.1,2108.9 L1502.8,2118.5 L1513.6,2127.1 L1526.4,2134.6 L1533.9,2141.0 L1545.7,2137.4 L1556.4,2137.4 L1566.1,2141.2 L1575.7,2132.7 L1588.5,2124.1 L1605.7,2113.4 L1620.7,2099.2 L1637.8,2090.7 L1652.8,2082.1 L1665.7,2073.9 L1678.5,2060.7 L1689.2,2045.7 L1696.7,2030.7 L1703.2,2011.4 L1711.1,1996.4 L1716.7,1979.3 L1721.4,1957.8 L1728.2,1932.1 L1735.3,1915.0 L1739.6,1891.4 L1746.0,1885.0 L1755.7,1878.6 L1761.0,1863.6 L1767.4,1848.6 L1777.5,1840.7 L1781.8,1817.1 L1786.1,1803.2 L1791.4,1801.0 L1802.1,1816.0 L1809.6,1827.8 L1813.9,1854.6 L1819.3,1865.3 L1824.6,1850.3 L1830.0,1838.5 L1837.5,1836.4 L1845.0,1842.8 L1856.8,1852.5 L1863.2,1869.6 L1868.6,1871.7 L1883.6,1863.2 L1891.0,1880.3 L1897.5,1892.1 L1907.1,1879.2 L1915.7,1887.8 L1920.0,1904.9 L1924.3,1923.2 L1932.8,1932.8 L1938.2,1945.7 L1939.3,1960.6 L1941.4,1979.9 L1947.8,2003.5 L1952.1,2007.8 L1958.5,1992.8 L1962.8,1975.6 L1970.3,1911.4 L1973.5,1887.8 L1975.7,1873.9 L1983.2,1864.2 L1986.4,1874.9 L1987.5,1892.1 L1988.5,1910.3 L1990.7,1928.5 L1995.0,1956.4 L2000.3,1969.2 L2011.0,1969.2 L2018.5,1954.2 L2025.0,1945.7 L2036.7,1954.2 L2048.5,1959.6 L2053.9,1941.4 L2056.0,1926.4 L2058.2,1915.7 L2061.4,1894.2 L2066.7,1896.4 L2072.1,1911.4 L2074.2,1928.5 L2077.4,1945.7 L2082.8,1971.4 L2093.5,1982.1 L2106.4,1975.6 L2119.2,1969.2 L2129.9,1974.6 L2142.8,1984.2 L2153.5,1996.0 L2162.1,1999.2 L2166.8,2015.3 L2181.2,2019.3 L2192.5,2027.4 L2205.3,2031.4 L2215.0,2036.2 L2230.2,2039.4 L2243.9,2047.5 L2248.7,2063.5 L2250.3,2079.6 L2251.4,2081.1 L2254.0,2106.3 L2256.5,2129.3 L2258.4,2149.7 L2259.7,2168.8 L2261.6,2193.1 L2262.9,2210.9 L2264.8,2228.8 L2268.0,2245.4 L2273.1,2255.6 L2277.6,2249.2 L2280.8,2236.4 L2282.7,2222.4 L2285.9,2193.1 L2286.5,2177.8 L2288.4,2154.8 L2290.3,2129.3 L2292.9,2091.0 L2294.8,2065.5 L2297.7,2013.7 L2300.1,1981.6 L2301.7,1951.0 L2302.6,1918.9 L2303.7,1890.0 L2306.6,1873.9 L2309.8,1848.2 L2311.4,1842.6 L2313.3,1848.2 L2315.4,1867.5 L2317.8,1888.4 L2324.2,1915.7 L2325.9,1930.2 L2328.3,1944.6 L2333.9,1971.9 L2337.1,2007.3 L2341.1,2015.3 L2346.7,2020.1 L2350.8,2007.3 L2353.2,2031.4 L2356.4,2050.7" fill="none" stroke="#3c3c3c" stroke-width="4.2" stroke-linejoin="round" stroke-linecap="butt" stroke-dasharray="22 22" />
<path d="M1470.7,2104.6 L1477.1,2112.1 L1485.7,2112.7 L1492.1,2108.9 L1502.8,2118.5 L1513.6,2127.1 L1526.4,2134.6 L1533.9,2141.0 L1545.7,2137.4 L1556.4,2137.4 L1566.1,2141.2 L1575.7,2132.7 L1588.5,2124.1 L1605.7,2113.4 L1620.7,2099.2 L1637.8,2090.7 L1652.8,2082.1 L1665.7,2073.9 L1678.5,2060.7 L1689.2,2045.7 L1696.7,2030.7 L1703.2,2011.4 L1711.1,1996.4 L1716.7,1979.3 L1721.4,1957.8 L1728.2,1932.1 L1735.3,1915.0 L1739.6,1891.4 L1746.0,1885.0 L1755.7,1878.6 L1761.0,1863.6 L1767.4,1848.6 L1777.5,1840.7 L1781.8,1817.1 L1786.1,1803.2 L1791.4,1801.0 L1802.1,1816.0 L1809.6,1827.8 L1813.9,1854.6 L1819.3,1865.3 L1824.6,1850.3 L1830.0,1838.5 L1837.5,1836.4 L1845.0,1842.8 L1856.8,1852.5 L1863.2,1869.6 L1868.6,1871.7 L1883.6,1863.2 L1891.0,1880.3 L1897.5,1892.1 L1907.1,1879.2 L1915.7,1887.8 L1920.0,1904.9 L1924.3,1923.2 L1932.8,1932.8 L1938.2,1945.7 L1939.3,1960.6 L1941.4,1979.9 L1947.8,2003.5 L1952.1,2007.8 L1958.5,1992.8 L1962.8,1975.6 L1970.3,1911.4 L1973.5,1887.8 L1975.7,1873.9 L1983.2,1864.2 L1986.4,1874.9 L1987.5,1892.1 L1988.5,1910.3 L1990.7,1928.5 L1995.0,1956.4 L2000.3,1969.2 L2011.0,1969.2 L2018.5,1954.2 L2025.0,1945.7 L2036.7,1954.2 L2048.5,1959.6 L2053.9,1941.4 L2056.0,1926.4 L2058.2,1915.7 L2061.4,1894.2 L2066.7,1896.4 L2072.1,1911.4 L2074.2,1928.5 L2077.4,1945.7 L2082.8,1971.4 L2093.5,1982.1 L2106.4,1975.6 L2119.2,1969.2 L2129.9,1974.6 L2142.8,1984.2 L2153.5,1996.0 L2162.1,1999.2 L2166.8,2015.3 L2181.2,2019.3 L2192.5,2027.4 L2205.3,2031.4 L2215.0,2036.2 L2230.2,2039.4 L2243.9,2047.5 L2248.7,2063.5 L2250.3,2079.6 L2251.4,2081.1 L2254.0,2106.3 L2256.5,2129.3 L2258.4,2149.7 L2259.7,2168.8 L2261.6,2193.1 L2262.9,2210.9 L2264.8,2228.8 L2268.0,2245.4 L2273.1,2255.6 L2277.6,2249.2 L2280.8,2236.4 L2282.7,2222.4 L2285.9,2193.1 L2286.5,2177.8 L2288.4,2154.8 L2290.3,2129.3 L2292.9,2091.0 L2294.8,2065.5 L2297.7,2013.7 L2300.1,1981.6 L2301.7,1951.0 L2302.6,1918.9 L2303.7,1890.0 L2306.6,1873.9 L2309.8,1848.2 L2311.4,1842.6 L2313.3,1848.2 L2315.4,1867.5 L2317.8,1888.4 L2324.2,1915.7 L2325.9,1930.2 L2328.3,1944.6 L2333.9,1971.9 L2337.1,2007.3 L2341.1,2015.3 L2346.7,2020.1 L2350.8,2007.3 L2353.2,2031.4 L2356.4,2050.7" fill="none" stroke="#777" stroke-width="3.8" stroke-linejoin="round" stroke-linecap="butt" stroke-dasharray="0 31 4 9" />
<path d="M1470.7,2105.7 L1477.1,2113.2 L1485.7,2113.8 L1492.1,2109.9 L1502.8,2119.6 L1513.6,2128.2 L1526.4,2135.7 L1533.9,2142.1 L1545.7,2138.2 L1556.4,2138.2 L1566.1,2142.1 L1575.7,2133.5 L1588.5,2124.9 L1605.7,2114.2 L1620.7,2100.3 L1637.8,2091.7 L1652.8,2083.2 L1665.7,2075.7 L1678.5,2062.8 L1689.2,2047.8 L1697.8,2032.8 L1704.2,2013.5 L1712.8,1998.5 L1718.2,1981.4 L1722.5,1960.0 L1730.0,1934.3 L1737.5,1917.1 L1740.7,1893.6 L1747.1,1887.1 L1756.7,1880.7 L1762.1,1865.7 L1768.5,1850.7 L1770.0,1850.3 L1777.5,1842.8 L1781.8,1819.2 L1786.1,1804.2 L1791.4,1801.0 L1797.9,1802.1 L1803.2,1793.5 L1807.5,1789.3 L1811.8,1794.6 L1816.1,1802.1 L1820.3,1793.5 L1824.6,1776.4 L1830.0,1765.7 L1835.3,1763.1 L1841.8,1768.9 L1846.1,1773.2 L1851.4,1763.5 L1855.7,1760.3 L1860.0,1767.8 L1865.3,1782.8 L1870.7,1772.1 L1876.1,1758.2 L1881.4,1754.5 L1886.8,1759.3 L1892.1,1770.0 L1895.3,1773.2 L1899.6,1763.5 L1905.0,1743.2 L1911.4,1737.4 L1917.8,1743.2 L1924.3,1756.0 L1929.6,1748.5 L1935.0,1735.7 L1939.3,1740.0 L1944.6,1751.8 L1950.0,1744.3 L1956.4,1716.4 L1962.8,1675.7 L1969.3,1645.7 L1975.7,1632.8 L1981.0,1629.6 L1986.4,1639.3 L1990.7,1675.7 L1993.9,1701.4 L1998.2,1695.0 L2002.5,1685.3 L2007.8,1688.6 L2013.2,1691.8 L2018.5,1675.7 L2022.8,1658.6 L2029.2,1653.2 L2035.7,1657.5 L2042.1,1668.2 L2048.5,1672.5 L2054.9,1666.1 L2060.3,1655.3 L2065.7,1660.7 L2072.1,1682.1 L2078.5,1712.1 L2084.9,1737.8 L2090.3,1745.3 L2097.8,1744.3 L2103.2,1757.1 L2108.5,1780.7 L2112.8,1783.9 L2120.3,1776.4 L2126.7,1782.8 L2134.2,1802.1 L2140.6,1819.2 L2151.4,1836.4 L2159.9,1853.5 L2163.6,1869.1 L2170.0,1886.8 L2176.4,1894.8 L2186.1,1904.4 L2190.9,1915.7 L2195.7,1935.0 L2202.1,1951.0 L2211.8,1959.1 L2218.2,1970.3 L2223.0,1981.6 L2231.0,1986.4 L2239.1,1999.3 L2247.1,2012.1 L2255.1,2026.6 L2261.6,2044.2 L2264.8,2063.5 L2267.4,2116.5 L2269.3,2148.4 L2271.8,2162.4 L2276.9,2167.6 L2282.0,2165.6 L2287.1,2154.8 L2289.7,2129.3 L2292.9,2091.0 L2294.8,2065.5 L2298.5,2013.7 L2301.7,1981.6 L2305.0,1954.3 L2308.2,1941.4 L2313.0,1935.0 L2317.8,1938.2 L2322.6,1951.0 L2327.5,1973.5 L2331.5,1992.8 L2335.5,2007.3 L2340.3,2015.3 L2346.7,2020.1 L2350.8,2013.7 L2353.2,2031.4 L2356.4,2050.7" fill="none" stroke="#3c3c3c" stroke-width="4.2" stroke-linejoin="round" stroke-linecap="butt" />
</g>
<g filter="url(#soft)">
<clipPath id="clipc"><rect x="1364.5" y="1500" width="100" height="900"/></clipPath><g clip-path="url(#clipc)">
<text transform="translate(1429.50,1603.82) scale(0.9650,1)" text-anchor="end" font-family="'Liberation Serif','Times New Roman',serif" font-weight="bold" font-size="54" fill="#111" >1.5</text>
<text transform="translate(1429.50,1702.32) scale(0.9650,1)" text-anchor="end" font-family="'Liberation Serif','Times New Roman',serif" font-weight="bold" font-size="54" fill="#111" >1.2</text>
<text transform="translate(1429.50,1800.82) scale(0.9650,1)" text-anchor="end" font-family="'Liberation Serif','Times New Roman',serif" font-weight="bold" font-size="54" fill="#111" >0.9</text>
<text transform="translate(1429.50,1899.32) scale(0.9650,1)" text-anchor="end" font-family="'Liberation Serif','Times New Roman',serif" font-weight="bold" font-size="54" fill="#111" >0.6</text>
<text transform="translate(1429.50,1997.82) scale(0.9650,1)" text-anchor="end" font-family="'Liberation Serif','Times New Roman',serif" font-weight="bold" font-size="54" fill="#111" >0.3</text>
<text transform="translate(1429.50,2096.32) scale(0.9650,1)" text-anchor="end" font-family="'Liberation Serif','Times New Roman',serif" font-weight="bold" font-size="54" fill="#111" >0.0</text>
<text transform="translate(1429.50,2194.82) scale(0.9650,1)" text-anchor="end" font-family="'Liberation Serif','Times New Roman',serif" font-weight="bold" font-size="54" fill="#111" >-0.3</text>
<text transform="translate(1429.50,2293.32) scale(0.9650,1)" text-anchor="end" font-family="'Liberation Serif','Times New Roman',serif" font-weight="bold" font-size="54" fill="#111" >-0.6</text>
</g>
<text transform="translate(1470.30,2353.16) scale(0.9700,1)" text-anchor="middle" font-family="'Liberation Serif','Times New Roman',serif" font-weight="bold" font-size="52" fill="#111" >650</text>
<text transform="translate(1618.02,2353.16) scale(0.9700,1)" text-anchor="middle" font-family="'Liberation Serif','Times New Roman',serif" font-weight="bold" font-size="52" fill="#111" >670</text>
<text transform="translate(1765.73,2353.16) scale(0.9700,1)" text-anchor="middle" font-family="'Liberation Serif','Times New Roman',serif" font-weight="bold" font-size="52" fill="#111" >690</text>
<text transform="translate(1913.45,2353.16) scale(0.9700,1)" text-anchor="middle" font-family="'Liberation Serif','Times New Roman',serif" font-weight="bold" font-size="52" fill="#111" >710</text>
<text transform="translate(2061.17,2353.16) scale(0.9700,1)" text-anchor="middle" font-family="'Liberation Serif','Times New Roman',serif" font-weight="bold" font-size="52" fill="#111" >730</text>
<text transform="translate(2208.88,2353.16) scale(0.9700,1)" text-anchor="middle" font-family="'Liberation Serif','Times New Roman',serif" font-weight="bold" font-size="52" fill="#111" >750</text>
<text transform="translate(2356.60,2353.16) scale(0.9700,1)" text-anchor="middle" font-family="'Liberation Serif','Times New Roman',serif" font-weight="bold" font-size="52" fill="#111" >770</text>
<text transform="translate(1338.66,2421.94) rotate(-90) scale(0.8489,0.8380)" font-family="'Liberation Serif','Times New Roman',serif" font-weight="normal" font-size="100" fill="#111" >1<tspan font-size="60%" dy="-0.33em">st</tspan><tspan dy="0.198em"> derivative of reflectance</tspan></text>
<text transform="translate(1629.83,2407.21) scale(0.7801,0.7857)" font-family="'Liberation Serif','Times New Roman',serif" font-weight="bold" font-size="100" fill="#111" >Wavelength (nm)</text>
<text transform="translate(1797.82,2486.80) scale(0.8186,0.7000)" font-family="'Liberation Serif','Times New Roman',serif" font-weight="bold" font-size="100" fill="#111" >(c)</text>
</g>
</svg>
</body></html>
